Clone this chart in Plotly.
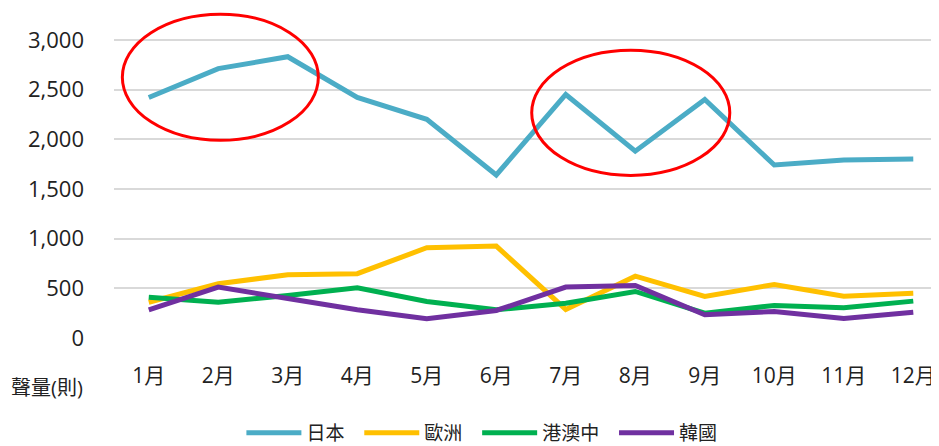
import plotly.graph_objects as go

months = ["1月", "2月", "3月", "4月", "5月", "6月", "7月", "8月", "9月", "10月", "11月", "12月"]
japan = [2420, 2710, 2830, 2420, 2200, 1640, 2450, 1880, 2400, 1740, 1790, 1800]
europe = [360, 546, 636, 647, 908, 925, 287, 622, 418, 539, 421, 451]
hk_macau_cn = [411, 360, 428, 505, 368, 284, 350, 468, 250, 327, 304, 371]
korea = [284, 512, 398, 284, 193, 277, 512, 529, 234, 267, 196, 260]
y_ticks = [0, 500, 1000, 1500, 2000, 2500, 3000]
y_tick_text = ["0", "500", "1,000", "1,500", "2,000", "2,500", "3,000"]

series = [
    ("日本", japan, "#4BACC6"),
    ("歐洲", europe, "#FFC000"),
    ("港澳中", hk_macau_cn, "#00B050"),
    ("韓國", korea, "#7030A0"),
]

FONT = "Open Sans, Noto Sans CJK TC, sans-serif"
TXT = "#222222"
PAD = "\u00a0\u00a0"

fig = go.Figure()
for name, vals, color in series:
    fig.add_trace(go.Scatter(
        x=months, y=vals, name=name + PAD, mode="lines",
        line=dict(color=color, width=5),
    ))

# red highlight ellipses
fig.add_shape(type="circle", xref="x", yref="y", x0=-0.38, x1=2.44, y0=1989, y1=3258,
              line=dict(color="#FF0000", width=3))
fig.add_shape(type="circle", xref="x", yref="y", x0=5.51, x1=8.36, y0=1636, y1=2895,
              line=dict(color="#FF0000", width=3))

fig.add_annotation(text="聲量(則)", xref="paper", yref="paper", x=-0.081, y=-0.151,
                   showarrow=False, font=dict(size=20, color=TXT, family=FONT),
                   xanchor="center", yanchor="middle")

# page body has an 8px margin, so the figure is drawn 8px in from the top-left
fig.update_layout(
    width=931, height=438,
    margin=dict(l=106, r=0, t=2, b=108, autoexpand=False),
    paper_bgcolor="white", plot_bgcolor="white",
    font=dict(family=FONT, color=TXT, size=20),
    showlegend=True,
    legend=dict(orientation="h", x=0.452, y=-0.289, xanchor="center", yanchor="middle",
                font=dict(size=19, color=TXT), itemwidth=55, traceorder="normal"),
    xaxis=dict(type="category", range=[-0.5, 11.37], showgrid=False, zeroline=False,
               showline=False, ticks="", ticklabelstandoff=23, automargin=False,
               tickfont=dict(size=21, color=TXT)),
    yaxis=dict(range=[0, 3300], tickvals=y_ticks, ticktext=y_tick_text,
               showgrid=True, gridcolor="#D9D9D9", gridwidth=1.5, zeroline=False,
               showline=False, ticks="", ticklabelstandoff=29, automargin=False,
               tickfont=dict(size=22, color=TXT)),
)

fig.write_html("out.html")
